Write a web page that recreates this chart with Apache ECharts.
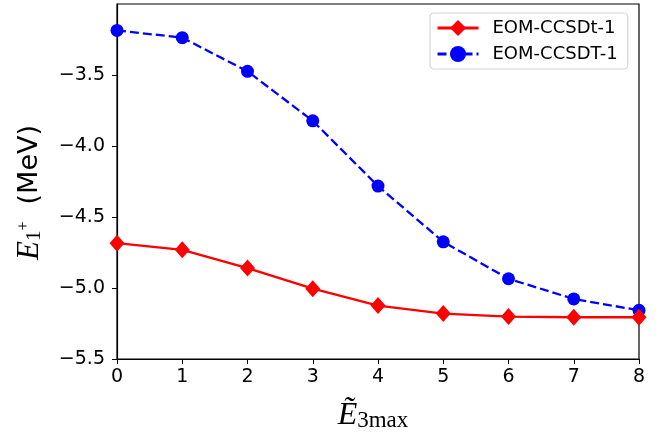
<!DOCTYPE html>
<html><head><meta charset="utf-8">
<script src="https://cdn.jsdelivr.net/npm/echarts@6/dist/echarts.min.js"></script>
<style>html,body{margin:0;padding:0;background:#fff}#c{width:665px;height:437px}</style>
</head><body><div id="c"></div>
<script>
const categories = [0, 1, 2, 3, 4, 5, 6, 7, 8];
const ccsdt1Lower = [-4.684, -4.731, -4.860, -5.005, -5.124, -5.180, -5.201, -5.206, -5.206];
const ccsdt1Full = [-3.186, -3.237, -3.474, -3.823, -4.282, -4.675, -4.935, -5.077, -5.157];
const seriesNames = ['EOM-CCSDt-1', 'EOM-CCSDT-1'];
const yTicks = [-5.5, -5.0, -4.5, -4.0, -3.5];

const chart = echarts.init(document.getElementById('c'), null, {renderer: 'canvas'});
const fmt = v => (Math.round(v * 10) / 10).toFixed(1).replace('-', '\u2212');
const sans = 'DejaVu Sans';
chart.setOption({
  animation: false,
  backgroundColor: '#fff',
  grid: {left: 117, right: 26, top: 4, bottom: 78, show: true, borderColor: '#000', borderWidth: 1.2, backgroundColor: 'transparent'},
  legend: {
    left: 430, top: 13, orient: 'vertical',
    data: seriesNames,
    itemWidth: 41, itemHeight: 20, itemGap: 8,
    padding: [6, 10, 6, 6],
    borderColor: '#d6d6d6', borderWidth: 1.2, borderRadius: 4,
    backgroundColor: 'rgba(255,255,255,0.85)',
    lineStyle: {width: 3},
    textStyle: {fontFamily: sans, fontSize: 18, color: '#000', padding: [0, 0, 0, 9]}
  },
  xAxis: {
    type: 'value', min: 0, max: 8, interval: 1,
    axisLine: {show: true, onZero: false, lineStyle: {color: '#000', width: 1.2}},
    axisTick: {show: true, length: 5, lineStyle: {color: '#000'}},
    splitLine: {show: false},
    axisLabel: {fontFamily: sans, fontSize: 19, color: '#000', margin: 9},
    name: '{e|\u1EBC}{s|3max}',
    nameLocation: 'middle', nameGap: 41,
    nameTextStyle: {
      rich: {
        e: {fontFamily: 'Liberation Serif', fontStyle: 'italic', fontSize: 32, color: '#000'},
        s: {fontFamily: 'Liberation Serif', fontSize: 23, color: '#000', padding: [9, 10, 0, 0]}
      }
    }
  },
  yAxis: {
    type: 'value', min: -5.5, max: -3.0, interval: 0.5,
    axisLine: {show: true, onZero: false, lineStyle: {color: '#000', width: 1.2}},
    axisTick: {show: true, length: 5, lineStyle: {color: '#000'},
      customValues: yTicks},
    splitLine: {show: false},
    axisLabel: {fontFamily: sans, fontSize: 19, color: '#000', margin: 12, formatter: fmt,
      customValues: yTicks},
    name: '{e|E}{s|1}{p|+}{m|  (MeV)}',
    nameLocation: 'middle', nameGap: 72, nameRotate: 90,
    nameTextStyle: {
      rich: {
        e: {fontFamily: 'Liberation Serif', fontStyle: 'italic', fontSize: 31, color: '#000'},
        s: {fontFamily: 'Liberation Serif', fontSize: 21, color: '#000', padding: [10, 0, 0, 0]},
        p: {fontFamily: 'Liberation Serif', fontSize: 16, color: '#000', padding: [0, 0, 12, 0]},
        m: {fontFamily: sans, fontSize: 27, color: '#000', padding: [0, 22, 0, 0]}
      }
    }
  },
  series: [
    {
      name: seriesNames[0], type: 'line',
      data: categories.map((x, i) => [x, ccsdt1Lower[i]]),
      color: '#ff0000',
      symbol: 'diamond', symbolSize: [15, 17],
      lineStyle: {color: '#ff0000', width: 2.3},
      itemStyle: {color: '#ff0000'},
      z: 3
    },
    {
      name: seriesNames[1], type: 'line',
      data: categories.map((x, i) => [x, ccsdt1Full[i]]),
      color: '#0000ff',
      symbol: 'circle', symbolSize: 13,
      lineStyle: {color: '#0000ff', width: 2.3, type: [9, 4]},
      itemStyle: {color: '#0000ff'},
      z: 2
    }
  ]
});
</script></body></html>
